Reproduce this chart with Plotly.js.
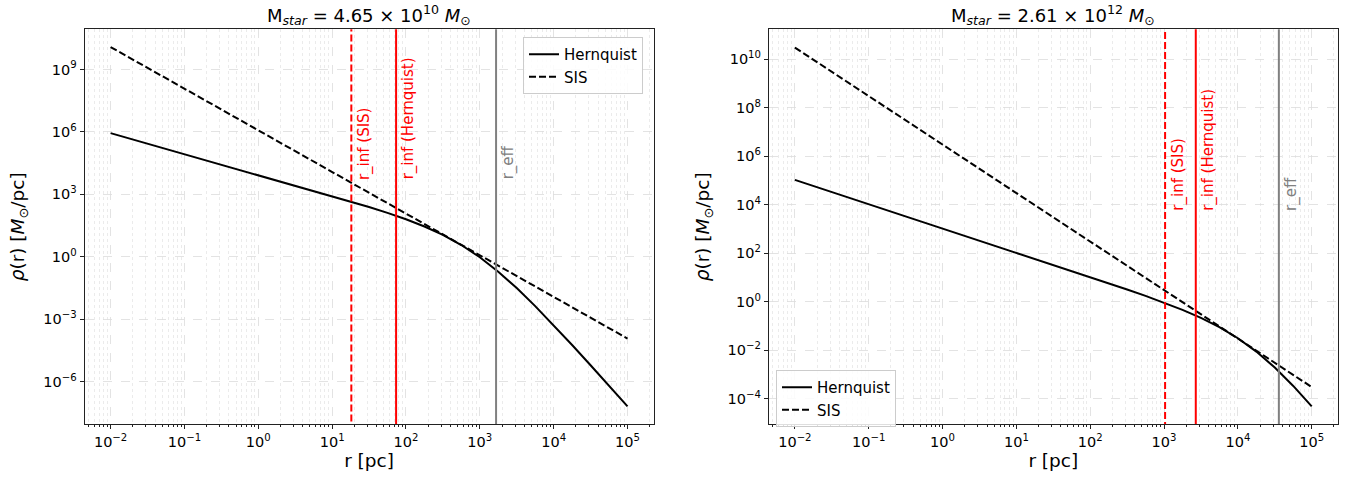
<!DOCTYPE html>
<html>
<head>
<meta charset="utf-8">
<script src="https://cdn.plot.ly/plotly-3.0.1.min.js"></script>
<style>html,body{margin:0;padding:0;background:#fff;}#chart{width:1353px;height:483px;}</style>
</head>
<body>
<div id="chart"></div>
<script>
// ---- data ----
const radius_pc = [0.01, 0.0316, 0.1, 0.316, 1, 3.16, 10, 17.8, 31.6, 56.2, 100, 178, 316, 562,
  1000, 1778, 3162, 5623, 10000, 17783, 31623, 56234, 100000];

// Left panel: M_star = 4.65e10
const hernquistLeft = [8.75e5, 2.76e5, 8.74e4, 2.76e4, 8.71e3, 2.74e3, 846, 464, 250, 130, 64.1, 28.9,
  11.4, 3.72, 0.962, 0.195, 0.0317, 4.32e-3, 5.23e-4, 5.85e-5, 6.25e-6, 6.48e-7, 6.62e-8];
const sisLeft = [1.2e10, 1.2e9, 1.2e8, 1.2e7, 1.2e6, 1.2e5, 1.2e4, 3795, 1200, 379.5, 120, 37.95,
  12, 3.795, 1.2, 0.3795, 0.12, 0.03795, 0.012, 3.795e-3, 1.2e-3, 3.795e-4, 1.2e-4];

// Right panel: M_star = 2.61e12
const hernquistRight = [1.049e5, 3.32e4, 1.049e4, 3.32e3, 1049, 331.6, 104.7, 58.8, 33.0, 18.49, 10.33, 5.74,
  3.16, 1.715, 0.906, 0.456, 0.213, 0.0884, 0.0309, 8.69e-3, 1.91e-3, 3.33e-4, 4.80e-5];
const sisRight = [3e10, 3e9, 3e8, 3e7, 3e6, 3e5, 3e4, 9487, 3000, 948.7, 300, 94.87,
  30, 9.487, 3, 0.9487, 0.3, 0.09487, 0.03, 9.487e-3, 3e-3, 9.487e-4, 3e-4];

// vertical markers: r_inf (SIS), r_inf (Hernquist), r_eff
const markerNames = ["r_inf (SIS)", "r_inf (Hernquist)", "r_eff"];
const markersLeft = [18.2, 73.5, 1660];
const markersRight = [1033, 2690, 35900];

const titleLeft = "M<sub><i>star</i></sub> = 4.65 × 10<sup>10</sup> <i>M</i><sub>⊙</sub>";
const titleRight = "M<sub><i>star</i></sub> = 2.61 × 10<sup>12</sup> <i>M</i><sub>⊙</sub>";

const xTickExps = [-2, -1, 0, 1, 2, 3, 4, 5];
const yTickExpsLeft = [-6, -3, 0, 3, 6, 9];
const yTickExpsRight = [-4, -2, 0, 2, 4, 6, 8, 10];

// ---- build ----
const FONT = "DejaVu Sans, Liberation Sans, sans-serif";
const sup = e => "10<sup>" + (e < 0 ? "−" + Math.abs(e) : e) + "</sup>";
const minorVals = [];
for (let d = -3; d <= 5; d++) for (let k = 2; k <= 9; k++) minorVals.push(k * Math.pow(10, d));

const markerStyles = [
  {color: "red", width: 2, dash: "7px,3px"},
  {color: "red", width: 2, dash: "solid"},
  {color: "gray", width: 2, dash: "solid"}
];
const markerTextColor = ["red", "red", "gray"];

const traces = [];
function curves(xa, ya, h, s, legend) {
  traces.push({x: radius_pc, y: h, xaxis: xa, yaxis: ya, mode: "lines", name: "Hernquist",
    line: {color: "black", width: 2}, legend: legend});
  traces.push({x: radius_pc, y: s, xaxis: xa, yaxis: ya, mode: "lines", name: "SIS",
    line: {color: "black", width: 2, dash: "7px,3px"}, legend: legend});
}
function vlines(xa, ya, vals) {
  vals.forEach((v, i) => {
    traces.push({x: [v, v], y: [1e-30, 1e30], xaxis: xa, yaxis: ya, mode: "lines",
      showlegend: false, hoverinfo: "skip", line: markerStyles[i]});
  });
}
curves("x", "y", hernquistLeft, sisLeft, "legend");
curves("x2", "y2", hernquistRight, sisRight, "legend2");
vlines("x", "y", markersLeft);
vlines("x2", "y2", markersRight);

const annotations = [];
function labels(xref, vals, yfrac) {
  vals.forEach((v, i) => {
    annotations.push({x: Math.log10(v), xref: xref, y: yfrac, yref: (xref === "x" ? "y" : "y2") + " domain",
      text: markerNames[i], textangle: -90, showarrow: false, xanchor: "left", yanchor: "bottom",
      xshift: 1, font: {family: FONT, size: 15, color: markerTextColor[i]}});
  });
}
labels("x", markersLeft, 0.614);
labels("x2", markersRight, 0.536);
annotations.push({text: titleLeft, xref: "x domain", x: 0.5, yref: "paper", y: 1 - 15 / 483,
  xanchor: "center", yanchor: "middle", showarrow: false, font: {family: FONT, size: 18, color: "black"}});
annotations.push({text: titleRight, xref: "x2 domain", x: 0.5, yref: "paper", y: 1 - 15 / 483,
  xanchor: "center", yanchor: "middle", showarrow: false, font: {family: FONT, size: 18, color: "black"}});

function xAxis(domain, anchor) {
  return {
    type: "log", domain: domain, anchor: anchor, range: [-2.352, 5.352],
    tickmode: "array", tickvals: xTickExps.map(e => Math.pow(10, e)), ticktext: xTickExps.map(sup),
    ticks: "outside", ticklen: 4, tickwidth: 1, tickcolor: "#222",
    tickfont: {family: FONT, size: 14.5, color: "black"},
    showline: true, linecolor: "#222", linewidth: 1, mirror: true,
    showgrid: true, gridcolor: "#dcdcdc", griddash: "dash", gridwidth: 0.8, zeroline: false,
    minor: {tickmode: "array", tickvals: minorVals, ticks: "outside", ticklen: 2, tickcolor: "#222",
      showgrid: true, gridcolor: "#e6e6e6", griddash: "dot", gridwidth: 0.8},
    title: {text: "r [pc]", font: {family: FONT, size: 18.5, color: "black"}, standoff: 5},
    automargin: false
  };
}
function yAxis(domain, anchor, range, exps) {
  return {
    type: "log", domain: domain, anchor: anchor, range: range,
    tickmode: "array", tickvals: exps.map(e => Math.pow(10, e)), ticktext: exps.map(sup),
    ticks: "outside", ticklen: 4, tickwidth: 1, tickcolor: "#222",
    tickfont: {family: FONT, size: 14.5, color: "black"},
    showline: true, linecolor: "#222", linewidth: 1, mirror: true,
    showgrid: true, gridcolor: "#dcdcdc", griddash: "dash", gridwidth: 0.8, zeroline: false,
    title: {text: "<i>ρ</i>(r) [<i>M</i><sub>⊙</sub>/pc]", font: {family: FONT, size: 18.5, color: "black"}, standoff: 13},
    automargin: false
  };
}
const yDom = [1 - 424.3 / 483, 1 - 29.3 / 483];
const legendStyle = {bgcolor: "rgba(255,255,255,0.85)", bordercolor: "#cccccc", borderwidth: 1,
  font: {family: FONT, size: 15, color: "black"}, xanchor: "left", yanchor: "top", tracegroupgap: 0};

const layout = {
  width: 1353, height: 483,
  margin: {l: 0, r: 0, t: 0, b: 0},
  paper_bgcolor: "white", plot_bgcolor: "white",
  font: {family: FONT, color: "black"},
  xaxis: xAxis([84.6 / 1353, 653.5 / 1353], "y"),
  yaxis: yAxis(yDom, "x", [-8.04, 10.93], yTickExpsLeft),
  xaxis2: xAxis([768.9 / 1353, 1337.7 / 1353], "y2"),
  yaxis2: yAxis(yDom, "x2", [-5.06, 11.23], yTickExpsRight),
  legend: Object.assign({x: 523 / 1353, y: 1 - 37 / 483}, legendStyle),
  legend2: Object.assign({x: 776 / 1353, y: 1 - 370 / 483}, legendStyle),
  annotations: annotations,
  showlegend: true
};
Plotly.newPlot("chart", traces, layout, {staticPlot: true, displayModeBar: false});
</script>
</body>
</html>
